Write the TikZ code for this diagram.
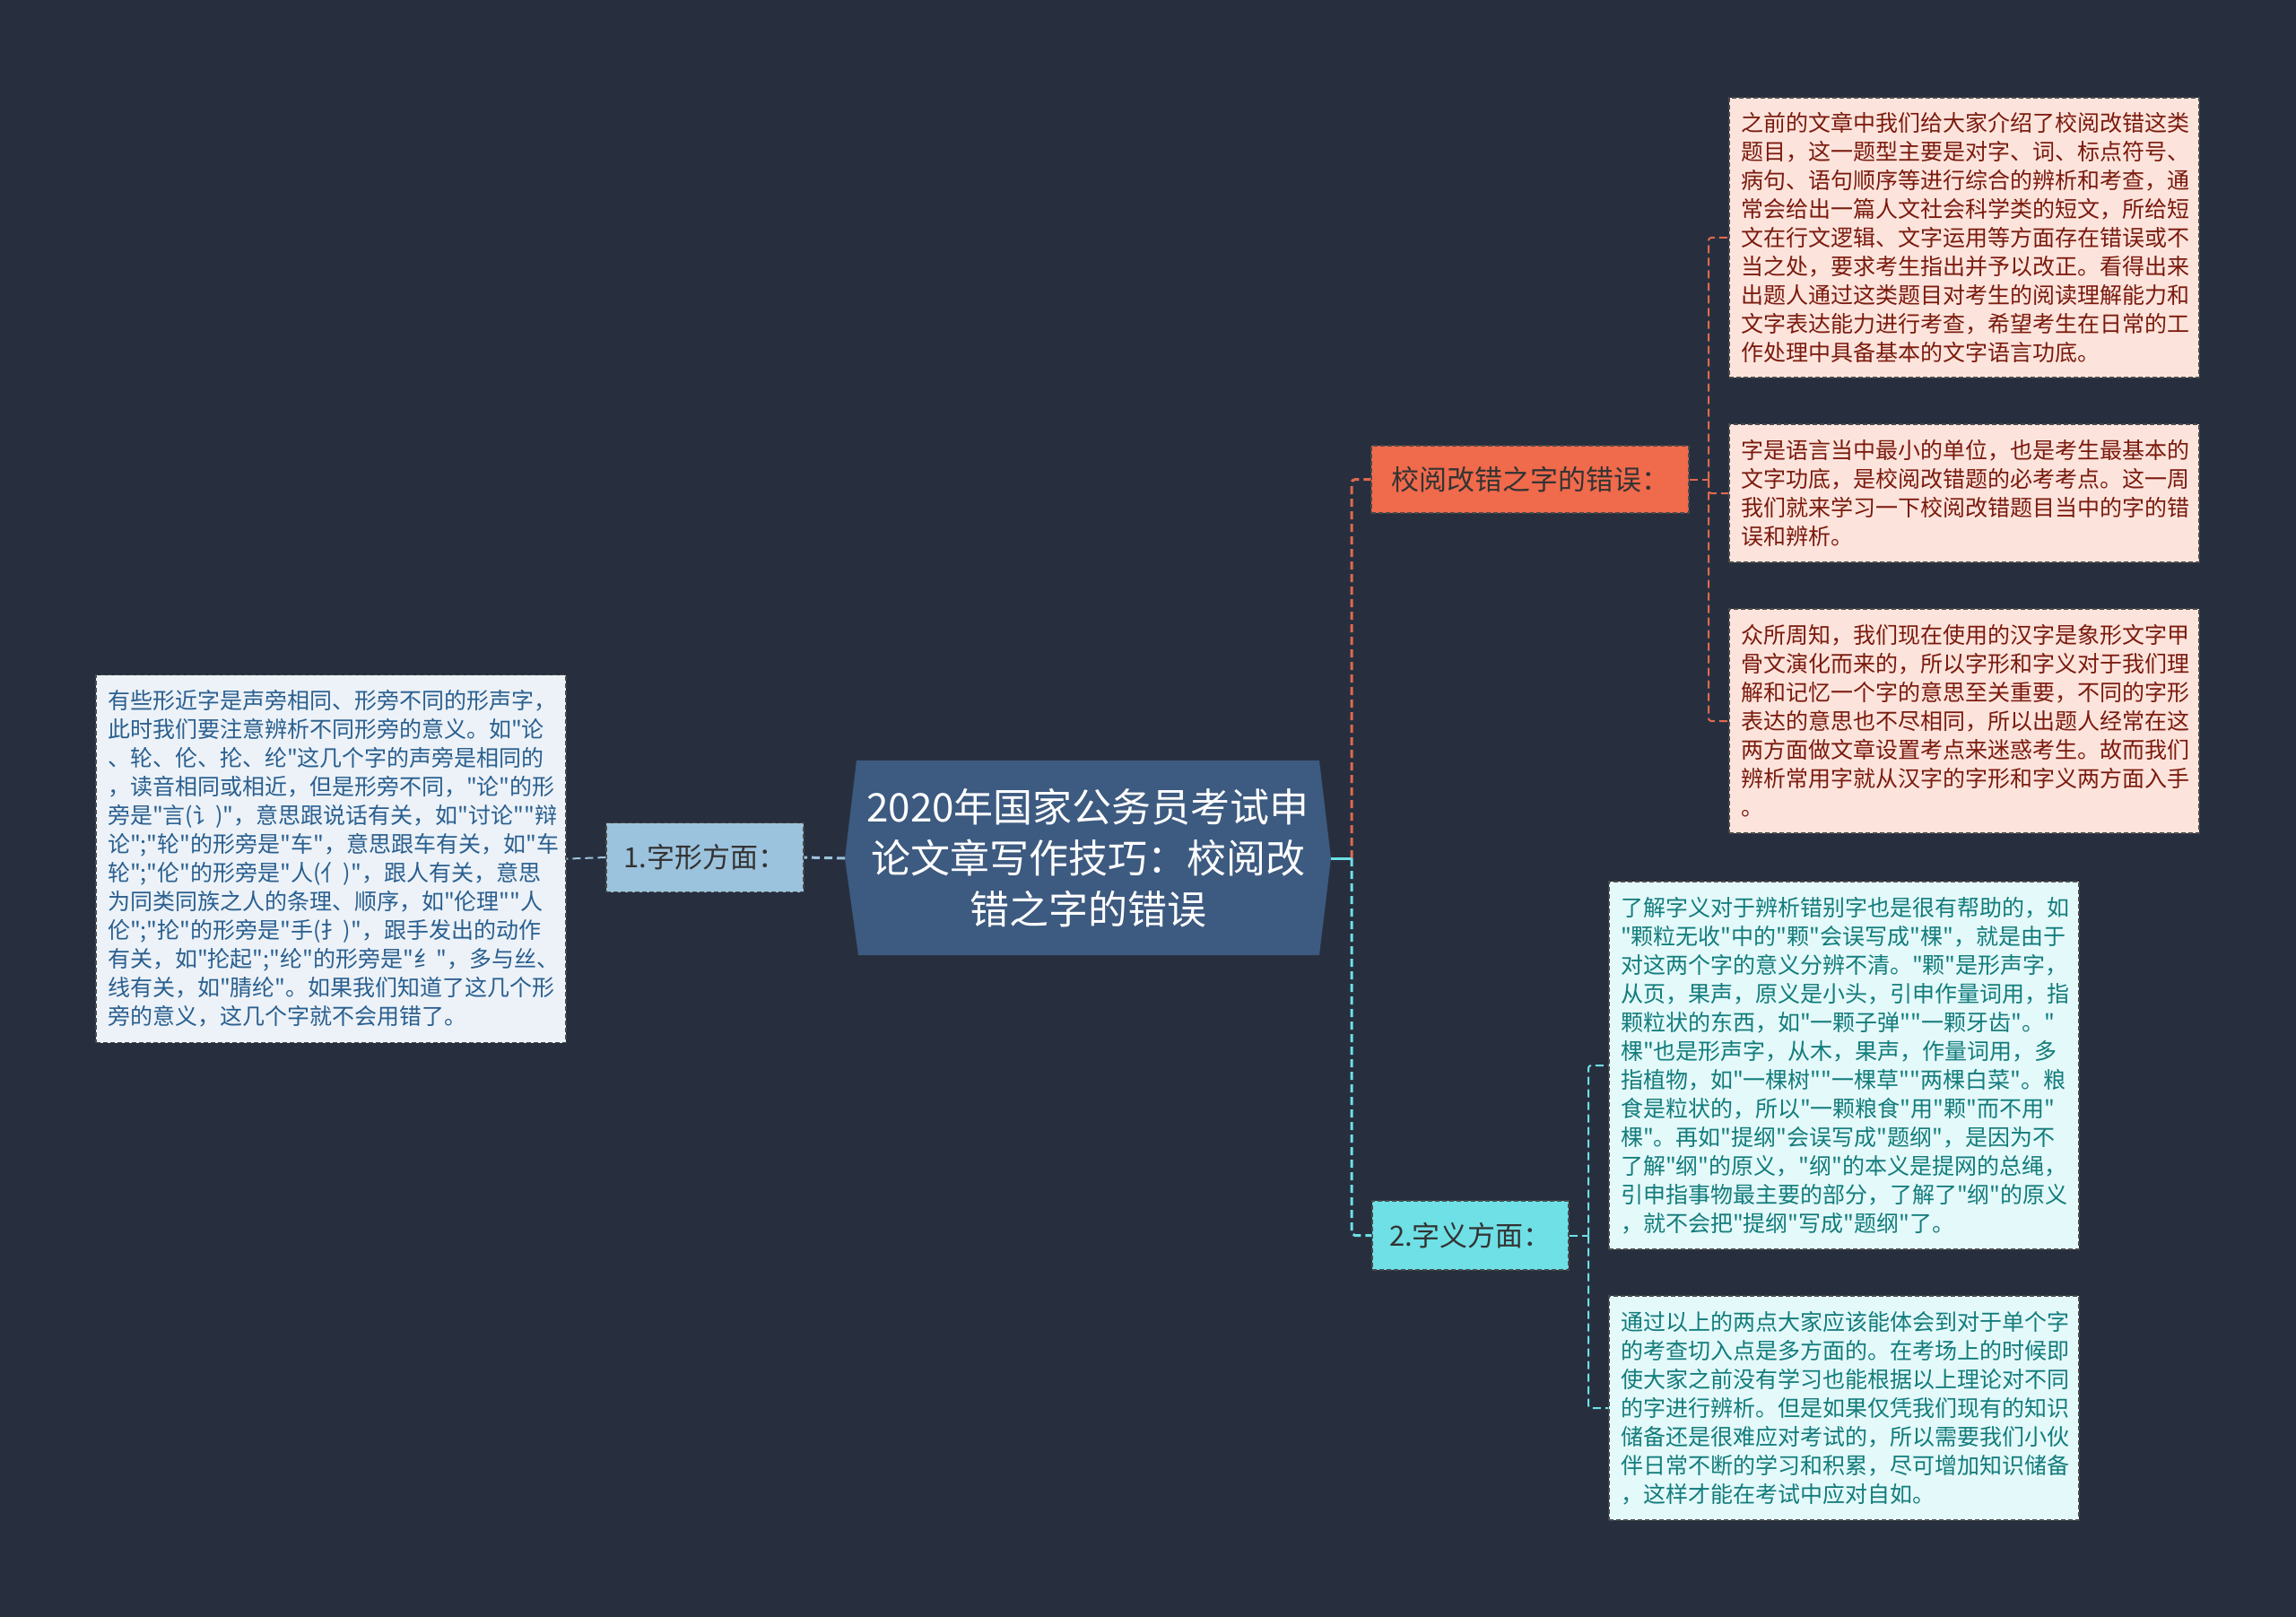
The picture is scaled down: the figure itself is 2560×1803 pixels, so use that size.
\documentclass[tikz,border=0pt]{standalone}
\usepackage{fontspec}
\setmainfont{Noto Sans CJK SC}
\newfontfamily\cjk{Noto Sans CJK SC}
\usetikzlibrary{calc}
\definecolor{bg}{HTML}{272F3E}
\definecolor{cfill}{HTML}{3D5A80}
\definecolor{bfill}{HTML}{9CC3DD}
\definecolor{lfill}{HTML}{ECF2F8}
\definecolor{ltext}{HTML}{2A5F8F}
\definecolor{ofill}{HTML}{F06A4C}
\definecolor{pfill}{HTML}{FCE4DC}
\definecolor{ptext}{HTML}{7B1A0E}
\definecolor{tfill}{HTML}{6EE0E6}
\definecolor{qfill}{HTML}{E4F9FA}
\definecolor{qtext}{HTML}{137C7C}
\definecolor{oline}{HTML}{E0694F}
\definecolor{bordc}{HTML}{4A4A4A}
\definecolor{labtext}{HTML}{333333}
\begin{document}
\begin{tikzpicture}[x=1pt,y=-1pt,
  txtbox/.style={draw=bordc, line width=1.2pt, dash pattern=on 5pt off 3pt,
    text width=498pt, inner xsep=13pt, inner ysep=0pt, align=left,
    font=\cjk\fontsize{25}{32}\selectfont, anchor=center},
  labbox/.style={draw=bordc, line width=1.2pt, dash pattern=on 5pt off 3pt,
    inner sep=0pt, text=labtext, font=\cjk\fontsize{31}{36}\selectfont, anchor=center},
  mainline/.style={line width=3pt, dash pattern=on 9pt off 5pt},
  subline/.style={line width=2pt, dash pattern=on 9pt off 5pt},
]
\useasboundingbox (0,0) rectangle (2560,1803);
\fill[bg] (0,0) rectangle (2560,1803);

% central hexagon
\coordinate (cL) at (942,957);
\coordinate (cR) at (1484,957);
\fill[cfill] (cL) -- (955,848) -- (1471,848) -- (cR) -- (1471,1065) -- (957,1065) -- cycle;
\node[text=white, align=center, font=\cjk\fontsize{44}{57}\selectfont, inner sep=0pt] (c) at (1213,957)
  {2020年国家公务员考试申\\论文章写作技巧：校阅改\\错之字的错误};

% branch labels
\node[labbox, fill=bfill, minimum width=220pt, minimum height=77pt] (b1) at (786,956) {1.字形方面：};
\node[labbox, fill=ofill, minimum width=354pt, minimum height=75pt] (o) at (1706,534.5) {校阅改错之字的错误：};
\node[labbox, fill=tfill, minimum width=219pt, minimum height=77pt] (t) at (1639.5,1377.5) {2.字义方面：};

% left text
\node[txtbox, fill=lfill, text=ltext, minimum height=410pt] (L) at (369,957.6) {%
有些形近字是声旁相同、形旁不同的形声字，\\%
此时我们要注意辨析不同形旁的意义。如"论\\%
、轮、伦、抡、纶"这几个字的声旁是相同的\\%
，读音相同或相近，但是形旁不同，"论"的形\\%
旁是"言(讠)"，意思跟说话有关，如"讨论""辩\\%
论";"轮"的形旁是"车"，意思跟车有关，如"车\\%
轮";"伦"的形旁是"人(亻)"，跟人有关，意思\\%
为同类同族之人的条理、顺序，如"伦理""人\\%
伦";"抡"的形旁是"手(扌)"，跟手发出的动作\\%
有关，如"抡起";"纶"的形旁是"纟"，多与丝、\\%
线有关，如"腈纶"。如果我们知道了这几个形\\%
旁的意义，这几个字就不会用错了。};

% right top texts
\node[txtbox, fill=pfill, text=ptext, minimum height=312pt] (p1) at (2190,265) {%
之前的文章中我们给大家介绍了校阅改错这类\\%
题目，这一题型主要是对字、词、标点符号、\\%
病句、语句顺序等进行综合的辨析和考查，通\\%
常会给出一篇人文社会科学类的短文，所给短\\%
文在行文逻辑、文字运用等方面存在错误或不\\%
当之处，要求考生指出并予以改正。看得出来\\%
出题人通过这类题目对考生的阅读理解能力和\\%
文字表达能力进行考查，希望考生在日常的工\\%
作处理中具备基本的文字语言功底。};
\node[txtbox, fill=pfill, text=ptext, minimum height=154pt] (p2) at (2190,550) {%
字是语言当中最小的单位，也是考生最基本的\\%
文字功底，是校阅改错题的必考考点。这一周\\%
我们就来学习一下校阅改错题目当中的字的错\\%
误和辨析。};
\node[txtbox, fill=pfill, text=ptext, minimum height=250pt] (p3) at (2190,804) {%
众所周知，我们现在使用的汉字是象形文字甲\\%
骨文演化而来的，所以字形和字义对于我们理\\%
解和记忆一个字的意思至关重要，不同的字形\\%
表达的意思也不尽相同，所以出题人经常在这\\%
两方面做文章设置考点来迷惑考生。故而我们\\%
辨析常用字就从汉字的字形和字义两方面入手\\%
。};

% right bottom texts
\node[txtbox, fill=qfill, text=qtext, minimum height=410pt] (q1) at (2056,1188) {%
了解字义对于辨析错别字也是很有帮助的，如\\%
"颗粒无收"中的"颗"会误写成"棵"，就是由于\\%
对这两个字的意义分辨不清。"颗"是形声字，\\%
从页，果声，原义是小头，引申作量词用，指\\%
颗粒状的东西，如"一颗子弹""一颗牙齿"。"\\%
棵"也是形声字，从木，果声，作量词用，多\\%
指植物，如"一棵树""一棵草""两棵白菜"。粮\\%
食是粒状的，所以"一颗粮食"用"颗"而不用"\\%
棵"。再如"提纲"会误写成"题纲"，是因为不\\%
了解"纲"的原义，"纲"的本义是提网的总绳，\\%
引申指事物最主要的部分，了解了"纲"的原义\\%
，就不会把"提纲"写成"题纲"了。};
\node[txtbox, fill=qfill, text=qtext, minimum height=250pt] (q2) at (2056,1570) {%
通过以上的两点大家应该能体会到对于单个字\\%
的考查切入点是多方面的。在考场上的时候即\\%
使大家之前没有学习也能根据以上理论对不同\\%
的字进行辨析。但是如果仅凭我们现有的知识\\%
储备还是很难应对考试的，所以需要我们小伙\\%
伴日常不断的学习和积累，尽可增加知识储备\\%
，这样才能在考试中应对自如。};

% connectors
\coordinate (j) at (1507,957);
\coordinate (jo) at (1905,534.5);
\coordinate (jt) at (1771,1377.5);
\draw[mainline, oline, rounded corners=4pt] (j) |- (o.west);
\draw[mainline, tfill, rounded corners=4pt] (j) |- (t.west);
\draw[line width=3pt, tfill] (cR) -- (j);
\draw[mainline, bfill] (cL) -- (b1.east);
\draw[subline, bfill] (b1.west) -- (L.east);
\draw[subline, oline] (o.east) -- (jo);
\draw[subline, oline, rounded corners=3pt] (jo) |- (p1.west);
\draw[subline, oline, rounded corners=3pt] (jo) |- (p2.west);
\draw[subline, oline, rounded corners=3pt] (jo) |- (p3.west);
\draw[subline, tfill] (t.east) -- (jt);
\draw[subline, tfill, rounded corners=3pt] (jt) |- (q1.west);
\draw[subline, tfill, rounded corners=3pt] (jt) |- (q2.west);
\end{tikzpicture}
\end{document}
